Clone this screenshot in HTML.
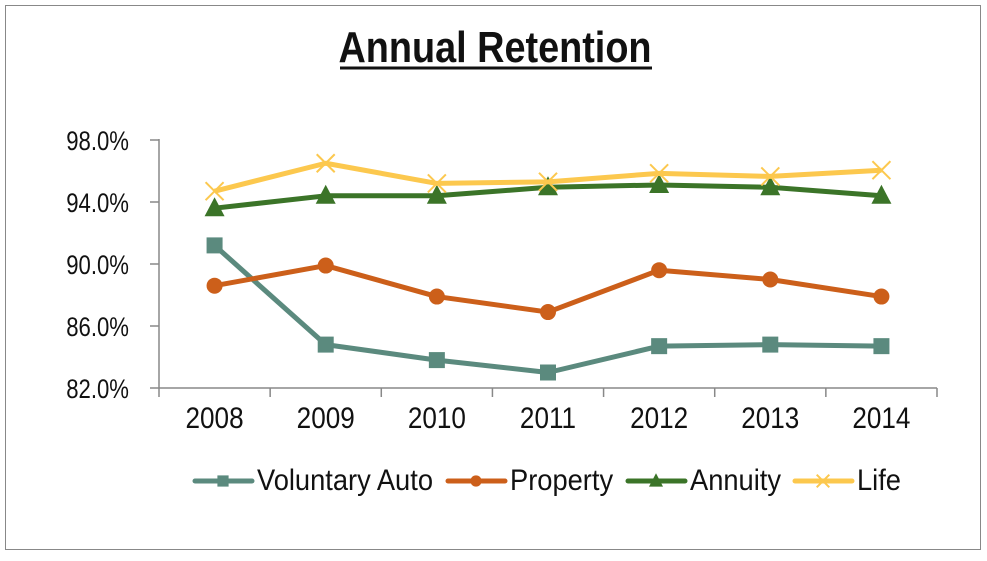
<!DOCTYPE html>
<html><head><meta charset="utf-8"><style>
body{margin:0;background:#fff;}
svg text{font-family:"Liberation Sans",sans-serif;fill:#111;}
</style></head><body>
<svg width="987" height="556" xmlns="http://www.w3.org/2000/svg" id="chart">
<rect x="5.5" y="5.5" width="975" height="544" fill="#fff" stroke="#888" stroke-width="1"/>
<text x="495" y="62" text-anchor="middle" font-size="44" font-weight="bold" transform="translate(495,0) scale(0.86,1) translate(-495,0)">Annual Retention</text>
<line x1="340" y1="68" x2="652" y2="68" stroke="#111" stroke-width="3"/>
<g id="axes"></g>
<g id="series"></g>
<g id="legend"></g>
</svg>
<script>
const categories=["2008","2009","2010","2011","2012","2013","2014"];
const yTicks=[82,86,90,94,98];
const seriesNames=["Voluntary Auto","Property","Annuity","Life"];
const autoValues=[91.2,84.8,83.8,83.0,84.7,84.8,84.7];
const propertyValues=[88.6,89.9,87.9,86.9,89.6,89.0,87.9];
const annuityValues=[93.6,94.4,94.4,94.95,95.1,94.95,94.4];
const lifeValues=[94.7,96.5,95.2,95.3,95.85,95.65,96.05];

const NS="http://www.w3.org/2000/svg";
const X0=159,X1=937,Y0=388,Y1=140;
const band=(X1-X0)/categories.length;
function xs(i){return X0+band*(i+0.5);}
function ys(v){return Y0-(v-82)/(98-82)*(Y0-Y1);}
function mk(tag,at,parent){const e=document.createElementNS(NS,tag);for(const k in at)e.setAttribute(k,at[k]);parent.appendChild(e);return e;}
const axes=document.getElementById('axes');
let a=mk('line',{x1:X0,y1:Y1-1,x2:X0,y2:Y0,stroke:'#888','stroke-width':1.5},axes);


a=mk('line',{x1:X0,y1:Y0,x2:X1,y2:Y0,stroke:'#888','stroke-width':1.5},axes);


yTicks.forEach(t=>{const y=ys(t);
 mk('line',{x1:X0-9,y1:y,x2:X0,y2:y,stroke:'#888','stroke-width':1.5},axes);
 const tx=mk('text',{x:129,y:y+10,'text-anchor':'end','font-size':27,transform:`translate(129,0) scale(0.82,1) translate(-129,0)`},axes);
 tx.textContent=t.toFixed(1)+'%';
 
 
});
for(let i=0;i<=categories.length;i++){const x=X0+band*i;mk('line',{x1:x,y1:Y0,x2:x,y2:Y0+9,stroke:'#888','stroke-width':1.5},axes);}
categories.forEach((c,i)=>{const x=xs(i);
 const tx=mk('text',{x:x,y:428,'text-anchor':'middle','font-size':30,transform:`translate(${x},0) scale(0.87,1) translate(${-x},0)`},axes);
 tx.textContent=c;
 
 
});
const colors=["#5b8a7e","#cc5f1a","#3b7428","#fcc84e"];
const vals=[autoValues,propertyValues,annuityValues,lifeValues];
function marker(type,x,y,col,g,s){
 if(type==0)mk('rect',{x:x-8*s,y:y-8*s,width:16*s,height:16*s,fill:col},g);
 else if(type==1)mk('circle',{cx:x,cy:y,r:8*s,fill:col},g);
 else if(type==2)mk('polygon',{points:`${x},${y-11*s} ${x-10*s},${y+8*s} ${x+10*s},${y+8*s}`,fill:col},g);
 else {mk('line',{x1:x-9*s,y1:y-9*s,x2:x+9*s,y2:y+9*s,stroke:col,'stroke-width':2},g);mk('line',{x1:x-9*s,y1:y+9*s,x2:x+9*s,y2:y-9*s,stroke:col,'stroke-width':2},g);}
}
const sg=document.getElementById('series');
[0,1,2,3].forEach(s=>{
 const g=mk('g',{},sg);
 
 
 mk('polyline',{points:vals[s].map((v,i)=>xs(i)+','+ys(v)).join(' '),fill:'none',stroke:colors[s],'stroke-width':5,'stroke-linejoin':'round'},g);
 vals[s].forEach((v,i)=>marker(s,xs(i),ys(v),colors[s],g,1));
});
const lg=document.getElementById('legend');
const lx=[195,448,628,795];
[0,1,2,3].forEach(s=>{
 const g=mk('g',{},lg);
 
 
 const x=lx[s];
 mk('line',{x1:x,y1:481,x2:x+57,y2:481,stroke:colors[s],'stroke-width':5,'stroke-linecap':'round'},g);
 marker(s,x+28,481,colors[s],g,0.7);
 const tx=mk('text',{x:x+62,y:490,'font-size':30,transform:`translate(${x+62},0) scale(0.91,1) translate(${-(x+62)},0)`},g);
 tx.textContent=seriesNames[s];
});
</script>
</body></html>
